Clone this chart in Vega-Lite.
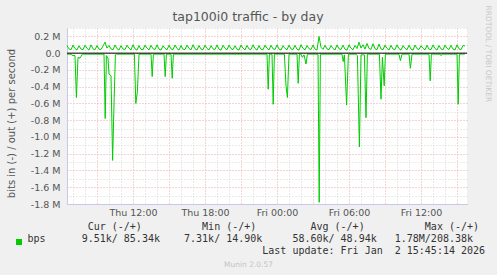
{
"$schema": "https://vega.github.io/schema/vega-lite/v6.json",
"width": 400, "height": 176,
"autosize": {"type": "none"},
"padding": {"left": 67, "top": 28, "right": 30, "bottom": 71},
"background": "#f0f0f0",
"config": {"view": {"fill": "white", "stroke": null}, "font": "DejaVu Sans"},
"title": {"text": "tap100i0 traffic - by day", "font": "DejaVu Sans", "fontSize": 12.5, "fontWeight": "normal", "color": "#555555", "anchor": "middle", "frame": "group", "dx": -19, "dy": 32, "offset": 4, "baseline": "alphabetic"},
"layer": [
{
"data": {"values": [
{"m":390,"d":"o","k":90},{"m":400,"d":"o","k":50},{"m":410,"d":"o","k":40},
{"m":420,"d":"o","k":96},{"m":430,"d":"o","k":55},{"m":440,"d":"o","k":38},
{"m":450,"d":"o","k":88},{"m":460,"d":"o","k":48},{"m":470,"d":"o","k":42},
{"m":480,"d":"o","k":94},{"m":490,"d":"o","k":58},{"m":500,"d":"o","k":36},
{"m":510,"d":"o","k":99},{"m":520,"d":"o","k":52},{"m":530,"d":"o","k":40},
{"m":540,"d":"o","k":91},{"m":550,"d":"o","k":47},{"m":560,"d":"o","k":44},
{"m":570,"d":"o","k":85},{"m":580,"d":"o","k":130},{"m":590,"d":"o","k":60},
{"m":600,"d":"o","k":92},{"m":610,"d":"o","k":50},{"m":620,"d":"o","k":40},
{"m":630,"d":"o","k":98},{"m":640,"d":"o","k":54},{"m":650,"d":"o","k":37},
{"m":660,"d":"o","k":89},{"m":670,"d":"o","k":49},{"m":680,"d":"o","k":43},
{"m":690,"d":"o","k":95},{"m":700,"d":"o","k":57},{"m":710,"d":"o","k":39},
{"m":720,"d":"o","k":100},{"m":730,"d":"o","k":51},{"m":740,"d":"o","k":36},
{"m":750,"d":"o","k":90},{"m":760,"d":"o","k":46},{"m":770,"d":"o","k":41},
{"m":780,"d":"o","k":96},{"m":790,"d":"o","k":59},{"m":800,"d":"o","k":38},
{"m":810,"d":"o","k":93},{"m":820,"d":"o","k":53},{"m":830,"d":"o","k":44},
{"m":840,"d":"o","k":99},{"m":850,"d":"o","k":48},{"m":860,"d":"o","k":37},
{"m":870,"d":"o","k":88},{"m":880,"d":"o","k":56},{"m":890,"d":"o","k":40},
{"m":900,"d":"o","k":94},{"m":910,"d":"o","k":50},{"m":920,"d":"o","k":42},
{"m":930,"d":"o","k":97},{"m":940,"d":"o","k":55},{"m":950,"d":"o","k":36},
{"m":960,"d":"o","k":91},{"m":970,"d":"o","k":47},{"m":980,"d":"o","k":43},
{"m":990,"d":"o","k":96},{"m":1000,"d":"o","k":58},{"m":1010,"d":"o","k":39},
{"m":1020,"d":"o","k":100},{"m":1030,"d":"o","k":52},{"m":1040,"d":"o","k":37},
{"m":1050,"d":"o","k":90},{"m":1060,"d":"o","k":49},{"m":1070,"d":"o","k":41},
{"m":1080,"d":"o","k":95},{"m":1090,"d":"o","k":56},{"m":1100,"d":"o","k":38},
{"m":1110,"d":"o","k":89},{"m":1120,"d":"o","k":51},{"m":1130,"d":"o","k":44},
{"m":1140,"d":"o","k":98},{"m":1150,"d":"o","k":47},{"m":1160,"d":"o","k":36},
{"m":1170,"d":"o","k":93},{"m":1180,"d":"o","k":57},{"m":1190,"d":"o","k":40},
{"m":1200,"d":"o","k":96},{"m":1210,"d":"o","k":53},{"m":1220,"d":"o","k":42},
{"m":1230,"d":"o","k":88},{"m":1240,"d":"o","k":48},{"m":1250,"d":"o","k":37},
{"m":1260,"d":"o","k":97},{"m":1270,"d":"o","k":59},{"m":1280,"d":"o","k":39},
{"m":1290,"d":"o","k":92},{"m":1300,"d":"o","k":50},{"m":1310,"d":"o","k":43},
{"m":1320,"d":"o","k":99},{"m":1330,"d":"o","k":55},{"m":1340,"d":"o","k":36},
{"m":1350,"d":"o","k":90},{"m":1360,"d":"o","k":46},{"m":1370,"d":"o","k":41},
{"m":1380,"d":"o","k":95},{"m":1390,"d":"o","k":58},{"m":1400,"d":"o","k":38},
{"m":1410,"d":"o","k":94},{"m":1420,"d":"o","k":52},{"m":1430,"d":"o","k":44},
{"m":1440,"d":"o","k":98},{"m":1450,"d":"o","k":49},{"m":1460,"d":"o","k":37},
{"m":1470,"d":"o","k":89},{"m":1480,"d":"o","k":56},{"m":1490,"d":"o","k":40},
{"m":1500,"d":"o","k":96},{"m":1510,"d":"o","k":51},{"m":1520,"d":"o","k":42},
{"m":1530,"d":"o","k":93},{"m":1540,"d":"o","k":47},{"m":1550,"d":"o","k":36},
{"m":1560,"d":"o","k":100},{"m":1570,"d":"o","k":57},{"m":1580,"d":"o","k":39},
{"m":1590,"d":"o","k":91},{"m":1600,"d":"o","k":53},{"m":1610,"d":"o","k":43},
{"m":1620,"d":"o","k":97},{"m":1630,"d":"o","k":48},{"m":1640,"d":"o","k":37},
{"m":1650,"d":"o","k":200},{"m":1660,"d":"o","k":70},{"m":1670,"d":"o","k":45},
{"m":1680,"d":"o","k":94},{"m":1690,"d":"o","k":50},{"m":1700,"d":"o","k":41},
{"m":1710,"d":"o","k":90},{"m":1720,"d":"o","k":56},{"m":1730,"d":"o","k":38},
{"m":1740,"d":"o","k":98},{"m":1750,"d":"o","k":52},{"m":1760,"d":"o","k":44},
{"m":1770,"d":"o","k":95},{"m":1780,"d":"o","k":47},{"m":1790,"d":"o","k":36},
{"m":1800,"d":"o","k":99},{"m":1810,"d":"o","k":58},{"m":1820,"d":"o","k":40},
{"m":1830,"d":"o","k":92},{"m":1840,"d":"o","k":55},{"m":1850,"d":"o","k":130},
{"m":1860,"d":"o","k":60},{"m":1870,"d":"o","k":100},{"m":1880,"d":"o","k":48},
{"m":1890,"d":"o","k":115},{"m":1900,"d":"o","k":55},{"m":1910,"d":"o","k":45},
{"m":1920,"d":"o","k":112},{"m":1930,"d":"o","k":52},{"m":1940,"d":"o","k":42},
{"m":1950,"d":"o","k":108},{"m":1960,"d":"o","k":50},{"m":1970,"d":"o","k":40},
{"m":1980,"d":"o","k":96},{"m":1990,"d":"o","k":56},{"m":2000,"d":"o","k":38},
{"m":2010,"d":"o","k":93},{"m":2020,"d":"o","k":48},{"m":2030,"d":"o","k":43},
{"m":2040,"d":"o","k":99},{"m":2050,"d":"o","k":54},{"m":2060,"d":"o","k":37},
{"m":2070,"d":"o","k":90},{"m":2080,"d":"o","k":57},{"m":2090,"d":"o","k":41},
{"m":2100,"d":"o","k":95},{"m":2110,"d":"o","k":49},{"m":2120,"d":"o","k":36},
{"m":2130,"d":"o","k":97},{"m":2140,"d":"o","k":53},{"m":2150,"d":"o","k":44},
{"m":2160,"d":"o","k":89},{"m":2170,"d":"o","k":58},{"m":2180,"d":"o","k":39},
{"m":2190,"d":"o","k":94},{"m":2200,"d":"o","k":47},{"m":2210,"d":"o","k":42},
{"m":2220,"d":"o","k":98},{"m":2230,"d":"o","k":55},{"m":2240,"d":"o","k":37},
{"m":2250,"d":"o","k":91},{"m":2260,"d":"o","k":50},{"m":2270,"d":"o","k":40},
{"m":2280,"d":"o","k":96},{"m":2290,"d":"o","k":57},{"m":2300,"d":"o","k":43},
{"m":2310,"d":"o","k":93},{"m":2320,"d":"o","k":48},{"m":2330,"d":"o","k":38},
{"m":2340,"d":"o","k":99},{"m":2350,"d":"o","k":52},{"m":2360,"d":"o","k":41},
{"m":2370,"d":"o","k":92},{"m":2380,"d":"o","k":85},
{"m":390,"d":"i","k":-12},{"m":410,"d":"i","k":-12},{"m":415,"d":"i","k":-25},{"m":430,"d":"i","k":-30},
{"m":437,"d":"i","k":-530},{"m":445,"d":"i","k":-50},{"m":455,"d":"i","k":-60},{"m":460,"d":"i","k":-40},{"m":467,"d":"i","k":-12},
{"m":575,"d":"i","k":-12},{"m":581,"d":"i","k":-780},{"m":587,"d":"i","k":-30},{"m":595,"d":"i","k":-60},{"m":600,"d":"i","k":-250},{"m":610,"d":"i","k":-270},
{"m":618,"d":"i","k":-1280},{"m":626,"d":"i","k":-530},{"m":632,"d":"i","k":-20},{"m":637,"d":"i","k":-12},
{"m":727,"d":"i","k":-12},{"m":734,"d":"i","k":-600},{"m":742,"d":"i","k":-460},{"m":750,"d":"i","k":-12},
{"m":810,"d":"i","k":-12},{"m":816,"d":"i","k":-280},{"m":822,"d":"i","k":-12},
{"m":875,"d":"i","k":-12},{"m":881,"d":"i","k":-280},{"m":887,"d":"i","k":-12},
{"m":910,"d":"i","k":-12},{"m":916,"d":"i","k":-300},{"m":922,"d":"i","k":-12},
{"m":1390,"d":"i","k":-12},{"m":1396,"d":"i","k":-430},{"m":1402,"d":"i","k":-12},
{"m":1415,"d":"i","k":-12},{"m":1421,"d":"i","k":-610},{"m":1427,"d":"i","k":-12},
{"m":1477,"d":"i","k":-12},{"m":1485,"d":"i","k":-390},{"m":1492,"d":"i","k":-530},{"m":1500,"d":"i","k":-12},
{"m":1540,"d":"i","k":-12},{"m":1546,"d":"i","k":-360},{"m":1552,"d":"i","k":-12},
{"m":1560,"d":"i","k":-12},{"m":1567,"d":"i","k":-50},{"m":1575,"d":"i","k":-20},{"m":1585,"d":"i","k":-130},{"m":1592,"d":"i","k":-12},
{"m":1645,"d":"i","k":-12},{"m":1651,"d":"i","k":-1780},{"m":1657,"d":"i","k":-12},
{"m":1765,"d":"i","k":-12},{"m":1771,"d":"i","k":-100},{"m":1777,"d":"i","k":-20},{"m":1788,"d":"i","k":-620},{"m":1797,"d":"i","k":-12},
{"m":1835,"d":"i","k":-12},{"m":1842,"d":"i","k":-30},{"m":1852,"d":"i","k":-1120},{"m":1860,"d":"i","k":-20},
{"m":1877,"d":"i","k":-20},{"m":1885,"d":"i","k":-770},{"m":1892,"d":"i","k":-12},
{"m":1952,"d":"i","k":-12},{"m":1960,"d":"i","k":-550},{"m":1967,"d":"i","k":-50},{"m":1976,"d":"i","k":-390},{"m":1982,"d":"i","k":-12},
{"m":2050,"d":"i","k":-12},{"m":2057,"d":"i","k":-90},{"m":2065,"d":"i","k":-12},
{"m":2100,"d":"i","k":-12},{"m":2107,"d":"i","k":-180},{"m":2115,"d":"i","k":-12},
{"m":2200,"d":"i","k":-12},{"m":2206,"d":"i","k":-330},{"m":2212,"d":"i","k":-12},
{"m":2255,"d":"i","k":-12},{"m":2260,"d":"i","k":-30},{"m":2265,"d":"i","k":-12},
{"m":2340,"d":"i","k":-12},{"m":2346,"d":"i","k":-610},{"m":2352,"d":"i","k":-12},
{"m":2380,"d":"i","k":-10}
]},
"mark": {"type": "line", "strokeWidth": 1},
"encoding": {
"x": {"field": "m", "type": "quantitative", "scale": {"domain": [390, 2390], "nice": false, "zero": false},
 "axis": {
  "values": [420,480,540,600,660,720,780,840,900,960,1020,1080,1140,1200,1260,1320,1380,1440,1500,1560,1620,1680,1740,1800,1860,1920,1980,2040,2100,2160,2220,2280,2340],
  "labelExpr": "datum.value % 360 == 0 ? (datum.value < 1440 ? 'Thu ' : 'Fri ') + format(floor((datum.value % 1440) / 60), '02d') + ':00' : ''",
  "labelFont": "DejaVu Sans", "labelFontSize": 9.5, "labelColor": "#555555", "labelPadding": 3, "labelFlush": false, "labelOverlap": false,
  "ticks": false, "domainColor": "#c8c8ec", "domainWidth": 1,
  "grid": true, "gridColor": {"condition": {"test": "datum.value % 180 == 0", "value": "#eaa8a8"}, "value": "#d6d6d6"}, "gridDash": [1, 2], "gridWidth": 1,
  "title": [
   "\u200b\u00a0\u00a0\u00a0\u00a0\u00a0\u00a0\u00a0\u00a0\u00a0\u00a0Cur\u00a0(-/+)\u00a0\u00a0\u00a0\u00a0\u00a0\u00a0\u00a0\u00a0\u00a0\u00a0Min\u00a0(-/+)\u00a0\u00a0\u00a0\u00a0\u00a0\u00a0\u00a0\u00a0\u00a0Avg\u00a0(-/+)\u00a0\u00a0\u00a0\u00a0\u00a0\u00a0\u00a0\u00a0\u00a0\u00a0Max\u00a0(-/+)",
   "bps\u00a0\u00a0\u00a0\u00a0\u00a0\u00a09.51k/\u00a085.34k\u00a0\u00a0\u00a0\u00a07.31k/\u00a014.90k\u00a0\u00a0\u00a0\u00a0\u00a058.60k/\u00a048.94k\u00a0\u00a0\u00a01.78M/208.38k",
   "\u200b\u00a0\u00a0\u00a0\u00a0\u00a0\u00a0\u00a0\u00a0\u00a0\u00a0\u00a0\u00a0\u00a0\u00a0\u00a0\u00a0\u00a0\u00a0\u00a0\u00a0\u00a0\u00a0\u00a0\u00a0\u00a0\u00a0\u00a0\u00a0\u00a0\u00a0\u00a0\u00a0\u00a0\u00a0\u00a0\u00a0\u00a0\u00a0\u00a0Last\u00a0update:\u00a0Fri\u00a0Jan\u00a0\u00a02\u00a015:45:14\u00a02026"
  ],
  "titleFont": "DejaVu Sans Mono", "titleFontSize": 10, "titleFontWeight": "normal", "titleColor": "#333333",
  "titleAnchor": "start", "titleAlign": "left", "titleBaseline": "alphabetic", "titleLineHeight": 12,
  "titleX": -40, "titleY": 25.5
 }},
"y": {"field": "k", "type": "quantitative", "scale": {"domain": [-1800, 300], "nice": false, "zero": false},
 "axis": {
  "values": [-1800,-1700,-1600,-1500,-1400,-1300,-1200,-1100,-1000,-900,-800,-700,-600,-500,-400,-300,-200,-100,0,100,200,300],
  "labelExpr": "datum.value % 200 == 0 ? (datum.value == 0 ? '0.0' : (datum.value < 0 ? '-' : '') + format(abs(datum.value) / 1000, '.1f') + ' M') : ''",
  "labelFont": "DejaVu Sans", "labelFontSize": 9.5, "labelColor": "#555555", "labelPadding": 7, "labelOverlap": false, "labelFlush": false,
  "ticks": false, "domainColor": "#c8c8ec", "domainWidth": 1,
  "grid": true, "gridColor": {"condition": {"test": "datum.value % 200 == 0", "value": "#eaa8a8"}, "value": "#d6d6d6"}, "gridDash": [1, 2], "gridWidth": 1,
  "title": "bits in (-) / out (+) per second", "titleFont": "DejaVu Sans", "titleFontSize": 10, "titleFontWeight": "normal", "titleColor": "#555555",
  "titleAngle": -90, "titleAlign": "center", "titleBaseline": "middle", "titleX": -56, "titleY": 95
 }},
"detail": {"field": "d"},
"color": {"datum": "bps", "scale": {"range": ["#00cc00"]},
 "legend": {"orient": "none", "legendX": -53, "legendY": 209, "title": null, "symbolType": "square", "symbolSize": 36, "symbolFillColor": "#00cc00", "symbolStrokeColor": "#00cc00", "symbolStrokeWidth": 0, "labelExpr": "''", "padding": 0}}
}
},
{
"data": {"values": [{}]},
"mark": {"type": "rule", "color": "#000000", "strokeWidth": 1},
"encoding": {
"x": {"datum": 390, "type": "quantitative",
 "axis": {"orient": "bottom", "labels": false, "ticks": false, "domain": false, "grid": false,
  "title": "Munin 2.0.57", "titleFont": "DejaVu Sans", "titleFontSize": 7.5, "titleFontWeight": "normal", "titleColor": "#c4c4c4",
  "titleAlign": "center", "titleBaseline": "middle", "titleX": 181, "titleY": 60}},
"x2": {"datum": 2390},
"y": {"datum": 0, "type": "quantitative",
 "axis": {"orient": "right", "labels": false, "ticks": false, "domain": false, "grid": false,
  "title": "RRDTOOL / TOBI OETIKER", "titleFont": "DejaVu Sans", "titleFontSize": 7.5, "titleFontWeight": "normal", "titleColor": "#c8c8c8",
  "titleAngle": 90, "titleAlign": "left", "titleBaseline": "middle", "titleX": 20.5, "titleY": -23}}
}
}
],
"resolve": {"axis": {"x": "independent", "y": "independent"}}
}
